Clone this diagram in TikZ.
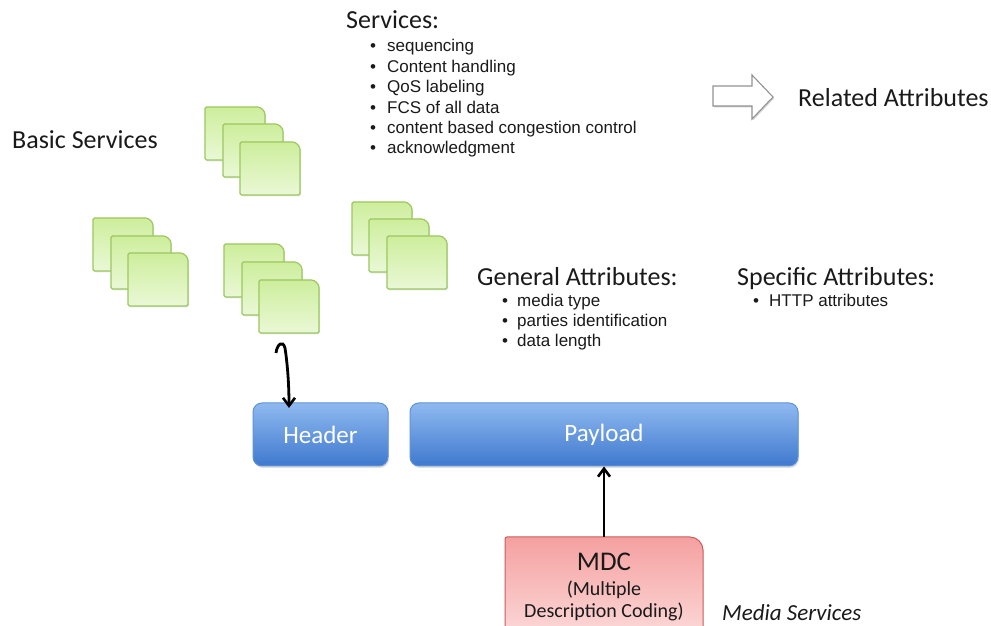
\documentclass[tikz,border=0pt]{standalone}
\usepackage{fontspec}
\setmainfont{Carlito}
\newfontfamily\arialf{Liberation Sans}
\usetikzlibrary{arrows.meta,shadows}
\definecolor{txt}{HTML}{1A1A1A}
\definecolor{cardtop}{HTML}{CDEE9C}
\definecolor{cardbot}{HTML}{EAF8D6}
\definecolor{cardline}{HTML}{9CC760}
\definecolor{bluetop}{HTML}{8FB9F0}
\definecolor{bluebot}{HTML}{3F79CE}
\definecolor{blueline}{HTML}{5F93D8}
\definecolor{pinktop}{HTML}{F5A0A0}
\definecolor{pinkbot}{HTML}{FCDADA}
\definecolor{pinkline}{HTML}{CC5A5A}
\tikzset{
  card/.style={draw=cardline, line width=1.2pt, top color=cardtop, bottom color=cardbot,
    rounded corners=1.5pt, drop shadow={opacity=0.2, shadow xshift=1pt, shadow yshift=-1.5pt}},
  bluebox/.style={draw=blueline, line width=1pt, top color=bluetop, bottom color=bluebot,
    rounded corners=9pt, inner sep=0pt, text=white, font=\fontsize{25}{28}\selectfont,
    drop shadow={opacity=0.25, shadow xshift=1pt, shadow yshift=-2pt}},
  title/.style={anchor=base west, inner sep=0pt, text=txt, font=\fontsize{26}{30}\selectfont},
  bul/.style={anchor=base west, inner sep=0pt, text=txt, font=\arialf\fontsize{17}{20}\selectfont},
  conn/.style={line width=2.8pt, -{Straight Barb[length=8pt,width=12pt,line width=2.6pt]}},
}
% card: #1 = left x (px), #2 = top y (px, from top)
\newcommand\gcard[2]{%
  \path[card] (#1,{626-#2-53}) -- (#1,{626-#2}) -- ({#1+51},{626-#2})
    .. controls ({#1+56},{626-#2}) and ({#1+60},{626-#2-4}) .. ({#1+60},{626-#2-9})
    -- ({#1+60},{626-#2-53}) -- cycle;}
\begin{document}
\begin{tikzpicture}[x=1pt,y=1pt]
\useasboundingbox (0,0) rectangle (991,626);
\fill[white] (0,0) rectangle (991,626);

% card stacks
\gcard{205}{107}\gcard{223}{124}\gcard{240}{142}
\gcard{93}{218}\gcard{111}{236}\gcard{128}{253}
\gcard{224}{244}\gcard{242}{262}\gcard{259}{280}
\gcard{352}{202}\gcard{369}{219}\gcard{387}{236}
\coordinate (hookstart) at (276,273);

% texts
\node[title] (services) at (346,597) {Services:};
\foreach \t [count=\i] in {sequencing,Content handling,QoS labeling,FCS of all data,content based congestion control,acknowledgment}{
  \node[bul] (sb\i) at (370,{626-52-(\i-1)*20.4}) {•};
  \node[bul] (st\i) at (387,{626-52-(\i-1)*20.4}) {\t};
}
\node[title] (basic) at (12,477) {Basic Services};
\node[title] (related) at (798,519) {Related Attributes};
\node[title] (general) at (477,340) {General Attributes:};
\foreach \t [count=\i] in {media type,parties identification,data length}{
  \node[bul] (gb\i) at (502,{626-307-(\i-1)*19.8}) {•};
  \node[bul] (gt\i) at (517,{626-307-(\i-1)*19.8}) {\t};
}
\node[title] (specific) at (737,340) {Specific Attributes:};
\node[bul] (hb) at (753,319) {•};
\node[bul] (ht) at (769,319) {HTTP attributes};

% hollow arrow
\path[draw=gray!85, line width=1.1pt, fill=white, drop shadow={opacity=0.35, shadow xshift=1pt, shadow yshift=-1.5pt}]
  (713,540) -- (752,540) -- (752,551) -- (773,529) -- (752,507) -- (752,520) -- (713,520) -- cycle;

% header / payload
\node[bluebox, minimum width=135pt, minimum height=63pt] (header) at (320.5,191.5) {Header};
\node[bluebox, minimum width=388pt, minimum height=63pt] (payload) at (604,191.5) {Payload};

% MDC box
\path[draw=pinkline, line width=1pt, top color=pinktop, bottom color=pinkbot, rounded corners=2pt]
  (505,-12) -- (505,89) -- (688,89) .. controls (697,89) and (703,83) .. (703,74) -- (703,-12) -- cycle;
\coordinate (mdctop) at (604,89);
\node[anchor=base, inner sep=0pt, text=txt, font=\fontsize{27}{30}\selectfont] (mdc) at (604,55) {MDC};
\node[anchor=base, inner sep=0pt, text=txt, font=\fontsize{20}{24}\selectfont] (mdc2) at (604,30) {(Multiple};
\node[anchor=base, inner sep=0pt, text=txt, font=\fontsize{20}{24}\selectfont] (mdc3) at (604,8) {Description Coding)};
\node[anchor=base west, inner sep=0pt, text=txt, font=\itshape\fontsize{23}{26}\selectfont] (media) at (722,5) {Media Services};

% connectors
\draw[conn] (hookstart) .. controls (277,282) and (283,286) .. (285,278)
  .. controls (287,265) and (289,245) .. (289,218);
\draw[conn] (mdctop) -- (payload.south -| mdctop);
\end{tikzpicture}
\end{document}
